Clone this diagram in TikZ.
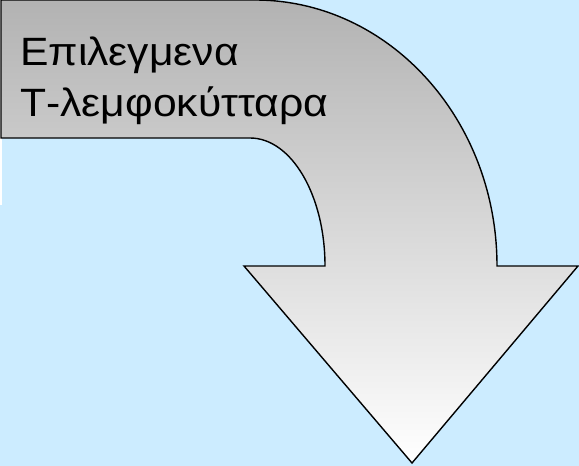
\documentclass[tikz,border=0pt]{standalone}
\usepackage{fontspec}
\setmainfont{Liberation Sans}
\newfontfamily\lblfont[FakeStretch=1.08]{Liberation Sans}
\definecolor{bgblue}{HTML}{CCECFF}
\begin{document}
\begin{tikzpicture}[x=1pt,y=-1pt,
  arrowshape/.style={draw=black,line width=1.4pt,line join=miter,top color=black!30,bottom color=white},
  label/.style={font=\lblfont\fontsize{39.5}{51}\selectfont,align=left,inner sep=0pt,anchor=base west}]
\fill[bgblue] (0,0) rectangle (579,466);
\useasboundingbox (0,0) rectangle (579,466);
\fill[white] (0,0) rectangle (2,205);
\path[arrowshape] (1,0) -- (255,0)
  .. controls (388.7,0) and (497,119.1) .. (497,266)
  -- (578,266) -- (412,463) -- (244,266) -- (325,266)
  .. controls (325,195.3) and (291.4,138) .. (250,138)
  -- (1,138) -- cycle;
\node[label] (title) at (20,116.7) {Επιλεγμενα\\Τ-λεμφοκύτταρα};
\end{tikzpicture}
\end{document}
